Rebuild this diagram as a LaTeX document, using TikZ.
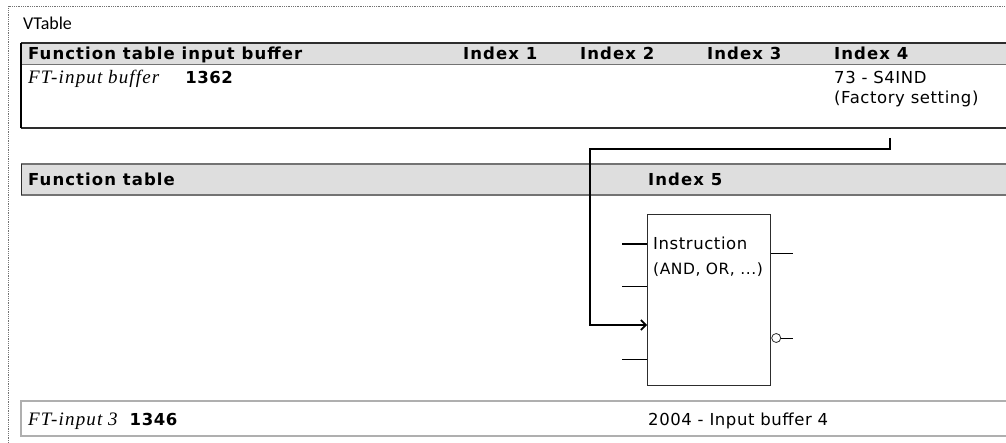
\documentclass[tikz,border=0pt]{standalone}
\usepackage{fontspec}
\usepackage{xcolor}
\usepackage{tikz}
\usetikzlibrary{arrows.meta, positioning, calc}
\newfontfamily\cellfont{DejaVu Sans}[LetterSpace=3.5]
\newfontfamily\headfont{DejaVu Sans}[LetterSpace=6.5]
\newfontfamily\titlefont{Carlito}
\newfontfamily\parfont{Liberation Serif}[LetterSpace=6]
\newcommand{\ftpar}[1]{{\parfont\itshape\fontsize{19}{21}\selectfont #1}}
\newcommand{\ftnum}[1]{{\cellfont\bfseries #1}}
\definecolor{hdrgray}{RGB}{222, 222, 222}
\definecolor{rulegray}{RGB}{175, 175, 175}
\definecolor{edgedark}{RGB}{45, 45, 45}
\definecolor{edgemid}{RGB}{115, 115, 115}

\begin{document}
\begin{tikzpicture}[
  x=1pt, y=-1pt,
  hdr/.style={anchor=base west, inner sep=0pt,
    font=\headfont\bfseries\fontsize{16.5}{19}\selectfont},
  cell/.style={anchor=base west, inner sep=0pt,
    font=\cellfont\fontsize{16.5}{19}\selectfont},
  small/.style={anchor=base west, inner sep=0pt,
    font=\cellfont\fontsize{15.5}{18}\selectfont},
  fnbox/.style={draw=edgedark, line width=1.3pt, anchor=north west,
    minimum width=123pt, minimum height=171pt, inner sep=0pt},
  stub/.style={line width=0.9pt},
  thickstub/.style={line width=1.8pt},
  link/.style={line width=2pt,
    -{Straight Barb[length=5pt, width=10pt, line width=1.6pt]}},
]
\useasboundingbox (0,0) rectangle (1006,443);
\clip (0,0) rectangle (1006,443);

\def\colA{28}
\def\colB{463}
\def\colC{580}
\def\colD{707}
\def\colE{834}
\def\colF{648}
\def\edge{1012}

% outer frame (cut off at right and bottom)
\draw[densely dotted, edgemid, line width=0.8pt] (8,450) -- (8,6) -- (\edge,6);
\node[cell, font=\titlefont\fontsize{18}{20}\selectfont] (vt) at (23,29.5) {VTable};

% input buffer table
\fill[hdrgray] (21,43.5) rectangle (\edge,64.5);
\draw[edgedark, line width=2pt] (21,43.5) -- (\edge,43.5);
\draw[edgemid, line width=1.6pt] (21,64.5) -- (\edge,64.5);
\draw[edgedark, line width=2pt] (21,128) -- (\edge,128);
\draw[black, line width=1.5pt] (21,43.5) -- (21,128);

\node[hdr] (bufH) at (\colA,59.5) {Function table input buffer};
\node[hdr] (ix1)  at (\colB,59.5) {Index 1};
\node[hdr] (ix2)  at (\colC,59.5) {Index 2};
\node[hdr] (ix3)  at (\colD,59.5) {Index 3};
\node[hdr] (ix4)  at (\colE,59.5) {Index 4};

\node[cell] (bufpar) at (\colA,83.5) {\ftpar{FT-input buffer}\hspace{26pt}\ftnum{1362}};
\node[cell] (s4ind)  at (\colE,83.5) {73 - S4IND};
\node[cell] (fact)   at (\colE,104) {(Factory setting)};

% function table header
\fill[hdrgray] (21,164) rectangle (\edge,195);
\draw[edgemid, line width=1.2pt] (21,164) -- (\edge,164);
\draw[edgemid, line width=2pt] (21,195) -- (\edge,195);
\draw[edgedark, line width=1pt] (21,164) -- (21,195);

\node[hdr] (ftH) at (\colA,186) {Function table};
\node[hdr] (ix5) at (\colF,186) {Index 5};

% function block
\node[fnbox] (instr) at (647,214) {};
\node[cell] (instrT) at (653,249.5) {Instruction};
\node[small] (instrS) at (653,275) {(AND, OR, ...)};

\draw[thickstub] ($(instr.north west)+(0,30)$) -- ++(-25,0);
\foreach \off in {72,145}
  \draw[stub] ($(instr.north west)+(0,\off)$) -- ++(-25,0);
\draw[stub] ($(instr.north east)+(0,39)$) -- ++(22,0);
\node[circle, draw=edgedark, fill=white, line width=0.8pt, inner sep=0pt,
  minimum size=9pt, anchor=west] (neg) at ($(instr.north east)+(0,124)$) {};
\draw[stub] (neg.east) -- ++(12,0);

% buffer value routed to input
\coordinate (fsrc) at (890,138);
\coordinate (jog)  at (590,149);
\draw[link] (fsrc) |- (jog) |- ($(instr.north west)+(0,111)$);

% input 3 row
\draw[rulegray, line width=1.5pt] (21,401) rectangle (\edge,436);
\node[cell] (in3par) at (\colA,425) {\ftpar{FT-input 3}\hspace{12pt}\ftnum{1346}};
\node[cell] (in3val) at (\colF,425) {2004 - Input buffer 4};

\end{tikzpicture}
\end{document}
